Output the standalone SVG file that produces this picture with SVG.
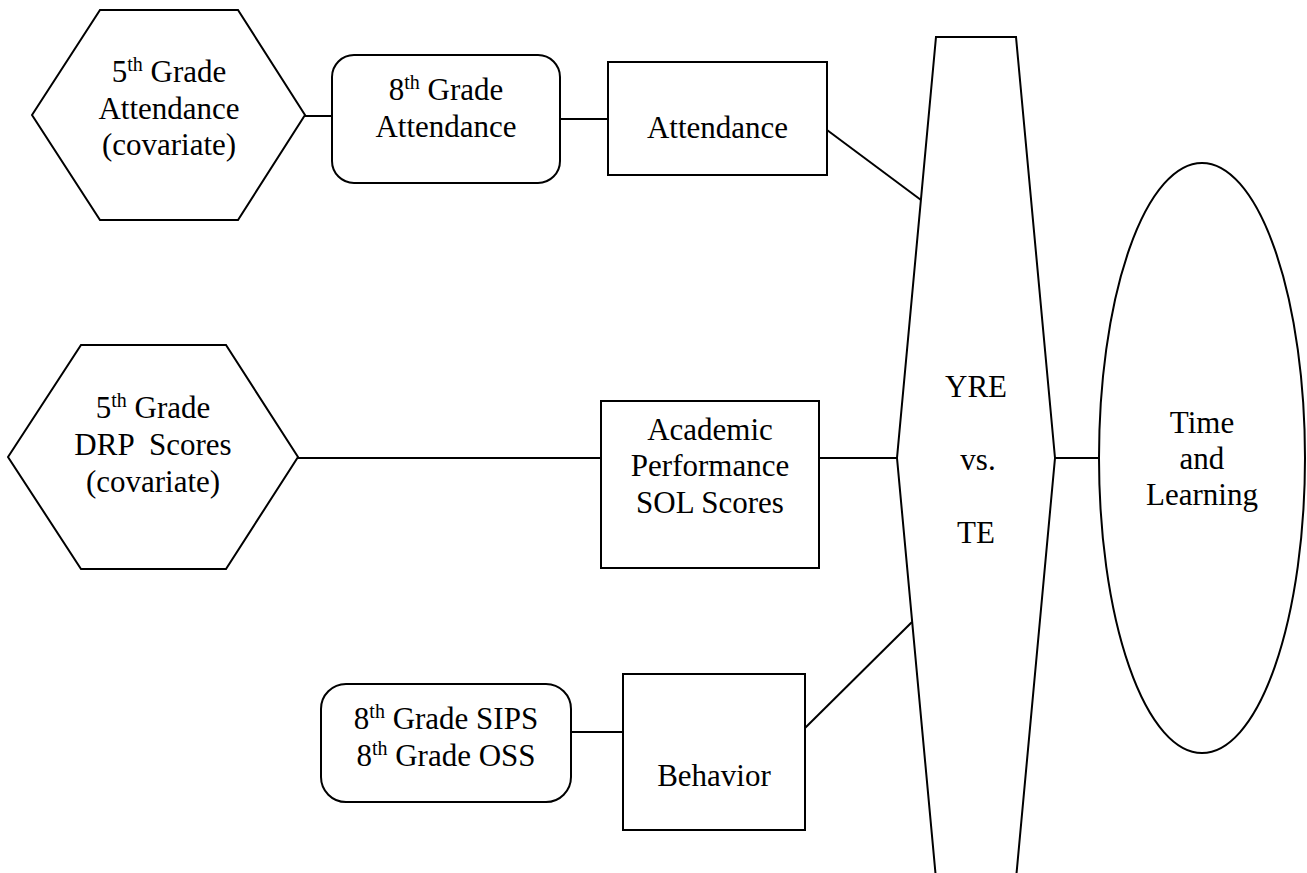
<svg xmlns="http://www.w3.org/2000/svg" width="1307" height="873" viewBox="0 0 1307 873">
<style>
.s{fill:#fff;stroke:#000;stroke-width:2}
.c{fill:none;stroke:#000;stroke-width:2}
text{font-family:"Liberation Serif","Times New Roman",serif;font-size:31px;fill:#000;text-anchor:middle}
.sup{font-size:20px}
</style>
<rect width="1307" height="873" fill="#fff"/>
<g id="connectors">
<line class="c" x1="305" y1="116" x2="332" y2="116"/>
<line class="c" x1="560" y1="119" x2="608" y2="119"/>
<line class="c" x1="827" y1="130" x2="921" y2="200"/>
<line class="c" x1="298" y1="458" x2="601" y2="458"/>
<line class="c" x1="819" y1="458" x2="897" y2="458"/>
<line class="c" x1="1055" y1="458" x2="1099" y2="458"/>
<line class="c" x1="571" y1="732" x2="623" y2="732"/>
<line class="c" x1="805" y1="728" x2="912" y2="622"/>
</g>
<g id="hex1">
<polygon class="s" points="32,115 100,10 238,10 305,115 238,220 100,220"/>
<text x="169" y="82">5<tspan class="sup" dy="-11">th</tspan><tspan dy="11"> Grade</tspan></text>
<text x="169" y="119">Attendance</text>
<text x="169" y="155">(covariate)</text>
</g>
<g id="grade8att">
<rect class="s" x="332" y="55" width="228" height="128" rx="22"/>
<text x="446" y="100">8<tspan class="sup" dy="-11">th</tspan><tspan dy="11"> Grade</tspan></text>
<text x="446" y="137">Attendance</text>
</g>
<g id="attendance">
<rect class="s" x="608" y="62" width="219" height="113"/>
<text x="717.5" y="138">Attendance</text>
</g>
<g id="hex2">
<polygon class="s" points="8,457 81,345 226,345 298,457 226,569 81,569"/>
<text x="153" y="418">5<tspan class="sup" dy="-11">th</tspan><tspan dy="11"> Grade</tspan></text>
<text x="153" y="455" xml:space="preserve">DRP  Scores</text>
<text x="153" y="492">(covariate)</text>
</g>
<g id="academic">
<rect class="s" x="601" y="401" width="218" height="167"/>
<text x="710" y="440">Academic</text>
<text x="710" y="476">Performance</text>
<text x="710" y="513">SOL Scores</text>
</g>
<g id="yre">
<polygon class="s" points="936,37 1016,37 1055,458 1016,879 936,879 897,458"/>
<text x="976" y="397">YRE</text>
<text x="978" y="470">vs.</text>
<text x="976" y="543">TE</text>
</g>
<g id="time">
<ellipse class="s" cx="1202" cy="458" rx="103" ry="295"/>
<text x="1202" y="433">Time</text>
<text x="1202" y="469">and</text>
<text x="1202" y="505">Learning</text>
</g>
<g id="sips">
<rect class="s" x="321" y="684" width="250" height="118" rx="25"/>
<text x="446" y="729">8<tspan class="sup" dy="-11">th</tspan><tspan dy="11"> Grade SIPS</tspan></text>
<text x="446" y="766">8<tspan class="sup" dy="-11">th</tspan><tspan dy="11"> Grade OSS</tspan></text>
</g>
<g id="behavior">
<rect class="s" x="623" y="674" width="182" height="156"/>
<text x="714" y="786">Behavior</text>
</g>
</svg>
